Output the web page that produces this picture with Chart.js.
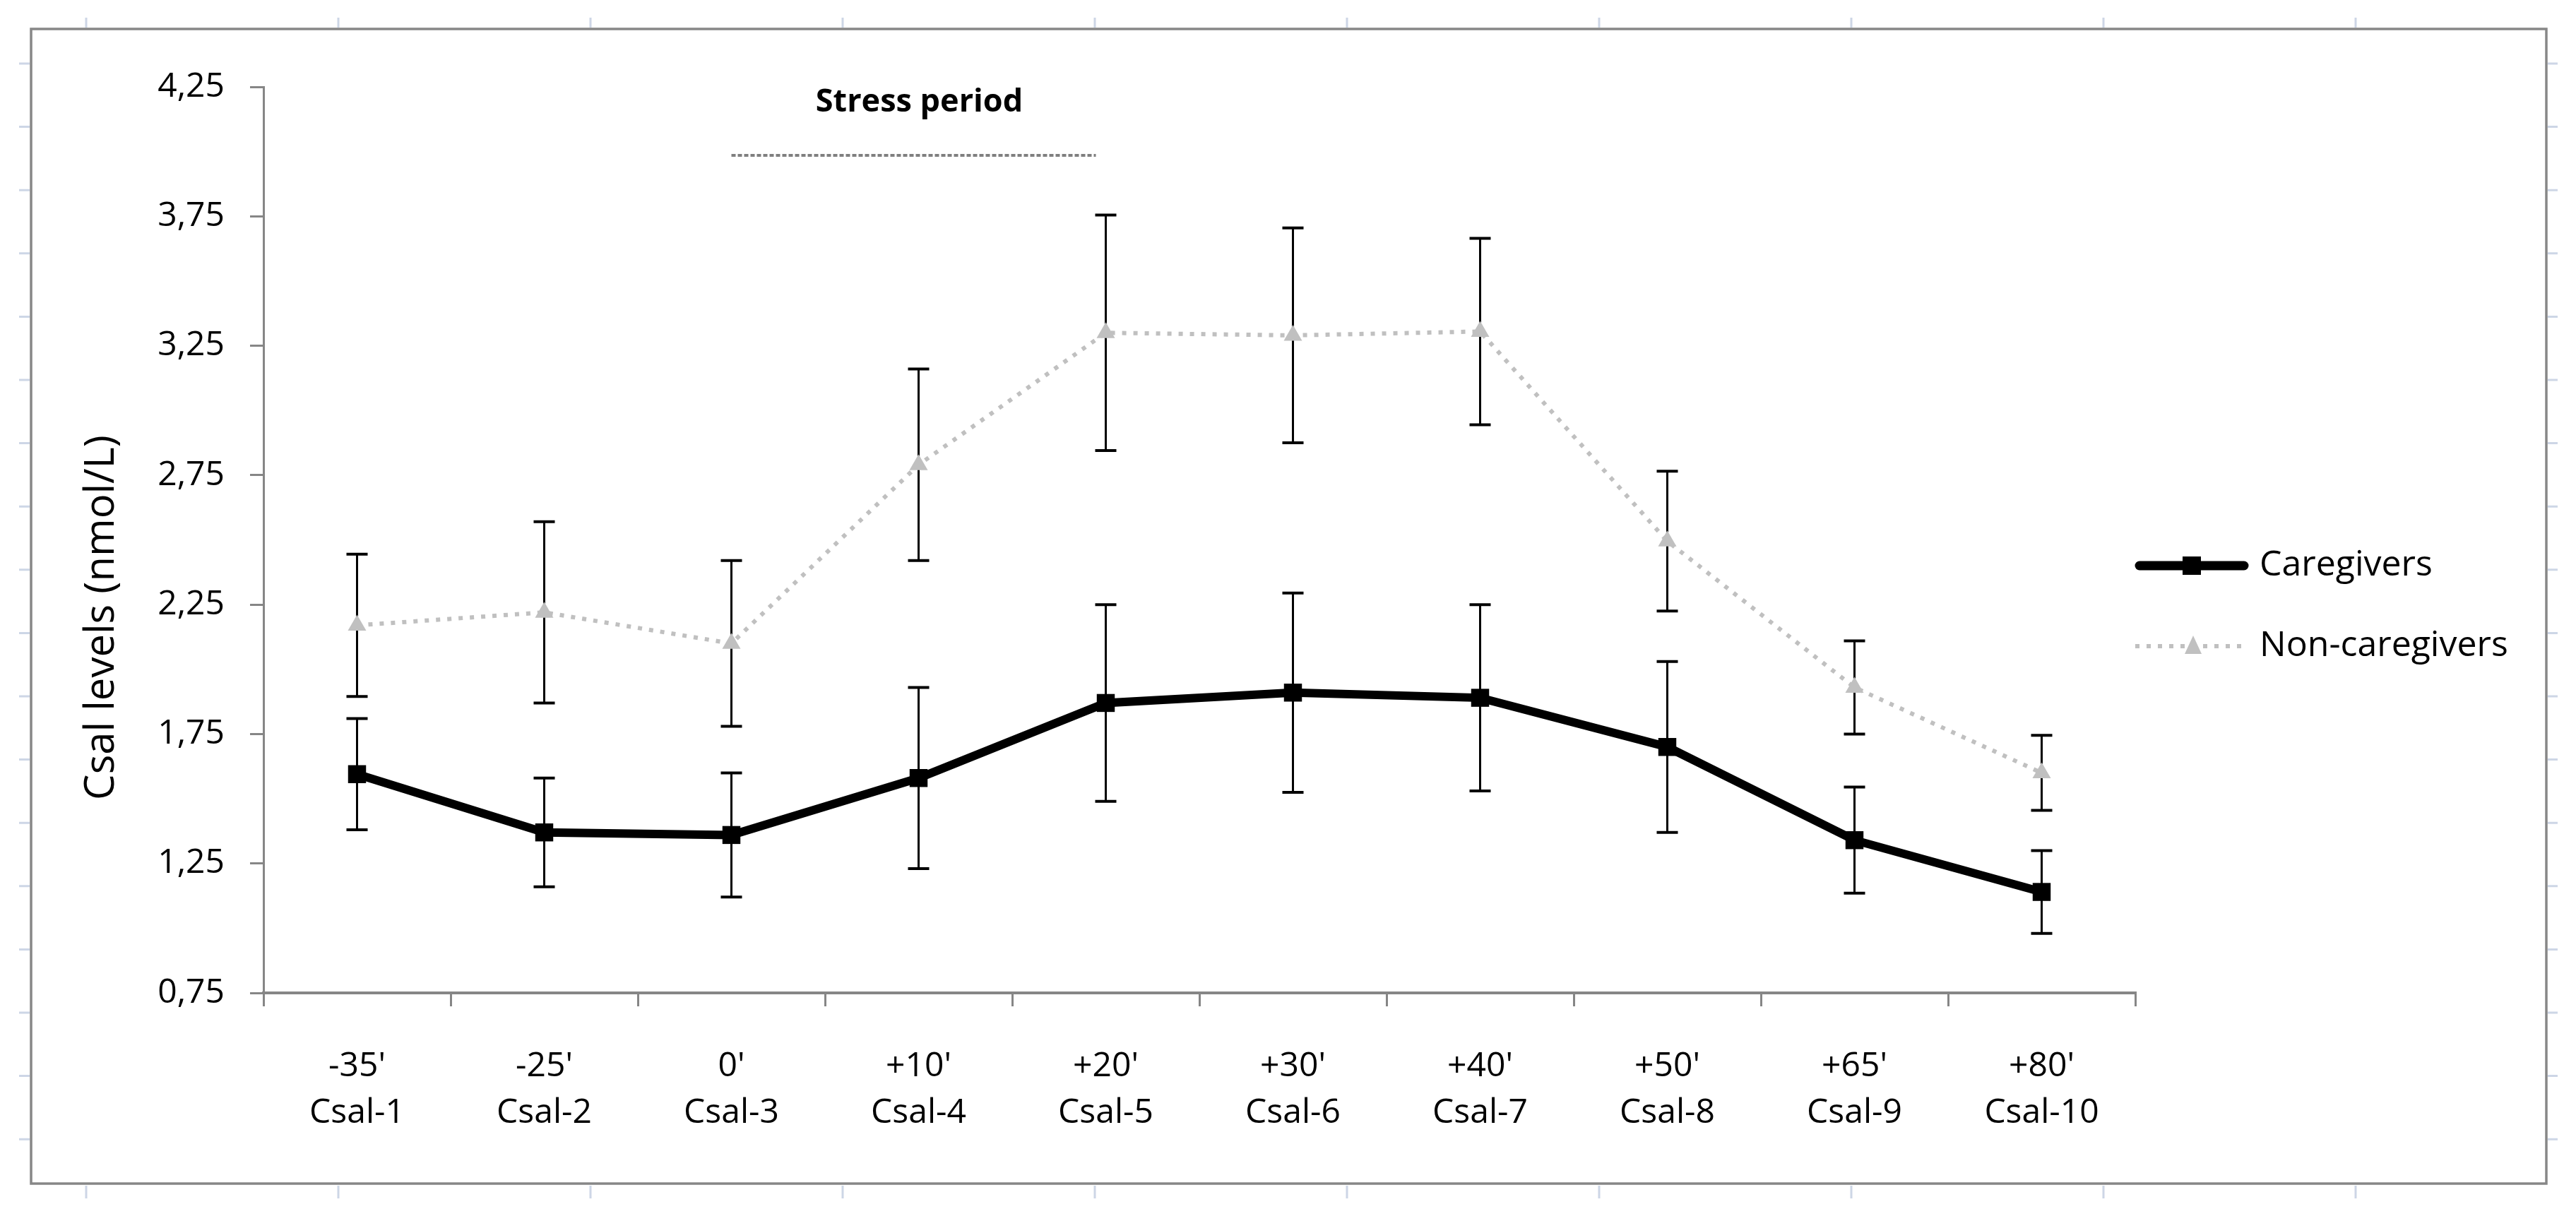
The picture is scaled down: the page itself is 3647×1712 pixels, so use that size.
<!DOCTYPE html>
<html>
<head>
<meta charset="utf-8">
<script src="https://cdn.jsdelivr.net/npm/chart.js@4.4.1/dist/chart.umd.min.js"></script>
<style>
  html, body { margin: 0; padding: 0; background: #ffffff; overflow: hidden; }
  canvas { display: block; }
</style>
</head>
<body>
<canvas id="chart" width="3647" height="1712" style="width:3647px;height:1712px"></canvas>
<script>
// ---------------- data ----------------
const timeLabels   = ["-35'", "-25'", "0'", "+10'", "+20'", "+30'", "+40'", "+50'", "+65'", "+80'"];
const sampleLabels = ["Csal-1", "Csal-2", "Csal-3", "Csal-4", "Csal-5", "Csal-6", "Csal-7", "Csal-8", "Csal-9", "Csal-10"];

const caregivers      = [1.595, 1.37, 1.36, 1.58, 1.87, 1.91, 1.89, 1.70, 1.34, 1.14];
const caregiversErr   = [0.215, 0.21, 0.24, 0.35, 0.38, 0.385, 0.36, 0.33, 0.205, 0.16];
const nonCaregivers    = [2.17, 2.22, 2.10, 2.79, 3.30, 3.29, 3.305, 2.495, 1.93, 1.60];
const nonCaregiversErr = [0.275, 0.35, 0.32, 0.37, 0.455, 0.415, 0.36, 0.27, 0.18, 0.145];

const yTickValues = [0.75, 1.25, 1.75, 2.25, 2.75, 3.25, 3.75, 4.25];
const yTitle = "Csal levels (nmol/L)";
const seriesNames = ["Caregivers", "Non-caregivers"];
const stressLabel = "Stress period";
const stressFromIndex = 2;   // 0'
const stressToIndex = 4;     // +20'

// ---------------- styling ----------------
const FONT = "'Open Sans', 'Noto Sans', sans-serif";
const AXIS_GRAY = '#868686';
const NC_GRAY = '#c0c0c0';

const decorPlugin = {
  id: 'decor',
  beforeDraw(chart) {
    const ctx = chart.ctx;
    ctx.save();
    ctx.fillStyle = '#ffffff';
    ctx.fillRect(0, 0, chart.width, chart.height);
    // faint marks outside the frame
    ctx.strokeStyle = '#cdd6e6';
    ctx.lineWidth = 3;
    ctx.beginPath();
    for (let k = 0; k < 10; k++) {
      const x = 122 + 357 * k;
      ctx.moveTo(x, 25); ctx.lineTo(x, 39);
      ctx.moveTo(x, 1679); ctx.lineTo(x, 1697);
    }
    for (let k = 0; k < 18; k++) {
      const y = 90 + 89.6 * k;
      ctx.moveTo(27, y); ctx.lineTo(42, y);
      ctx.moveTo(3607, y); ctx.lineTo(3621, y);
    }
    ctx.stroke();
    // frame
    ctx.strokeStyle = '#878787';
    ctx.lineWidth = 3.5;
    ctx.strokeRect(44, 41, 3605 - 44, 1676 - 41);
    ctx.restore();
  }
};

const errorBarPlugin = {
  id: 'errorBars',
  beforeDatasetsDraw(chart) {
    const { ctx, scales: { x, y } } = chart;
    ctx.save();
    ctx.strokeStyle = '#000000';
    chart.data.datasets.forEach(ds => {
      ds.data.forEach((v, i) => {
        const e = ds.errors[i];
        const px = x.getPixelForValue(i);
        const top = y.getPixelForValue(v + e);
        const bot = y.getPixelForValue(v - e);
        ctx.lineWidth = 3;
        ctx.beginPath();
        ctx.moveTo(px, top); ctx.lineTo(px, bot);
        ctx.stroke();
        ctx.lineWidth = 4;
        ctx.beginPath();
        ctx.moveTo(px - 15, top); ctx.lineTo(px + 15, top);
        ctx.moveTo(px - 15, bot); ctx.lineTo(px + 15, bot);
        ctx.stroke();
      });
    });
    ctx.restore();
  }
};

const annotationPlugin = {
  id: 'annot',
  afterDraw(chart) {
    const { ctx, scales: { x, y }, chartArea } = chart;
    ctx.save();
    // stress period
    const x1 = x.getPixelForValue(stressFromIndex);
    const x2 = x.getPixelForValue(stressToIndex) - 14;
    const lineY = chartArea.top + 97;
    ctx.strokeStyle = '#7f7f7f';
    ctx.lineWidth = 4;
    ctx.setLineDash([6, 3]);
    ctx.beginPath();
    ctx.moveTo(x1, lineY); ctx.lineTo(x2, lineY);
    ctx.stroke();
    ctx.setLineDash([]);
    ctx.fillStyle = '#000000';
    ctx.font = "bold 45px " + FONT;
    ctx.textAlign = 'center';
    ctx.textBaseline = 'alphabetic';
    ctx.fillText(stressLabel, (x1 + x2) / 2 + 8, chartArea.top + 35);
    // y title
    ctx.save();
    ctx.translate(144, (chartArea.top + chartArea.bottom) / 2 + 110);
    ctx.rotate(-Math.PI / 2);
    ctx.font = "58px " + FONT;
    ctx.textAlign = 'center';
    ctx.textBaseline = 'middle';
    ctx.fillText(yTitle, 0, 0);
    ctx.restore();
    ctx.restore();
  }
};

const legendPlugin = {
  id: 'customLegend',
  afterDraw(chart) {
    const { ctx, chartArea } = chart;
    const x0 = chartArea.right;
    const lineLen = 160;
    const cy = chart.height / 2;
    const rows = [cy - 55, cy + 59];
    ctx.save();
    // Caregivers
    ctx.strokeStyle = '#000000';
    ctx.lineWidth = 13;
    ctx.lineCap = 'round';
    ctx.beginPath();
    ctx.moveTo(x0 + 6, rows[0]); ctx.lineTo(x0 + lineLen - 6, rows[0]);
    ctx.stroke();
    ctx.fillStyle = '#000000';
    ctx.fillRect(x0 + lineLen / 2 - 13, rows[0] - 13, 26, 26);
    // Non-caregivers
    ctx.lineCap = 'butt';
    ctx.strokeStyle = NC_GRAY;
    ctx.lineWidth = 6;
    ctx.setLineDash([6, 10]);
    ctx.beginPath();
    ctx.moveTo(x0, rows[1]); ctx.lineTo(x0 + lineLen - 6, rows[1]);
    ctx.stroke();
    ctx.setLineDash([]);
    ctx.fillStyle = NC_GRAY;
    const tx = x0 + lineLen / 2 + 2;
    ctx.beginPath();
    ctx.moveTo(tx, rows[1] - 15);
    ctx.lineTo(tx + 12, rows[1] + 11);
    ctx.lineTo(tx - 12, rows[1] + 11);
    ctx.closePath();
    ctx.fill();
    // labels
    ctx.fillStyle = '#000000';
    ctx.font = "50px " + FONT;
    ctx.textAlign = 'left';
    ctx.textBaseline = 'middle';
    ctx.fillText(seriesNames[0], x0 + lineLen + 16, rows[0]);
    ctx.fillText(seriesNames[1], x0 + lineLen + 16, rows[1]);
    ctx.restore();
  }
};

new Chart(document.getElementById('chart'), {
  type: 'line',
  data: {
    labels: timeLabels.map((t, i) => [t, sampleLabels[i]]),
    datasets: [
      {
        label: seriesNames[0],
        data: caregivers,
        errors: caregiversErr,
        borderColor: '#000000',
        backgroundColor: '#000000',
        borderWidth: 12,
        tension: 0,
        pointStyle: 'rect',
        pointRadius: 18,
        pointBorderWidth: 0,
        pointBackgroundColor: '#000000',
        order: 0
      },
      {
        label: seriesNames[1],
        data: nonCaregivers,
        errors: nonCaregiversErr,
        borderColor: NC_GRAY,
        backgroundColor: NC_GRAY,
        borderWidth: 6,
        borderDash: [6, 10],
        tension: 0,
        pointStyle: 'triangle',
        pointRadius: 15,
        pointBorderWidth: 0,
        pointBackgroundColor: NC_GRAY,
        order: 1
      }
    ]
  },
  options: {
    responsive: false,
    animation: false,
    devicePixelRatio: 1,
    layout: { padding: { left: 0, top: 123, right: 624, bottom: 106 } },
    plugins: {
      legend: { display: false },
      tooltip: { enabled: false },
      title: { display: false }
    },
    scales: {
      x: {
        type: 'category',
        offset: true,
        grid: { offset: true, drawOnChartArea: false, drawTicks: true, tickLength: 19, color: AXIS_GRAY, lineWidth: 3 },
        border: { display: true, color: AXIS_GRAY, width: 4 },
        ticks: {
          autoSkip: false, maxRotation: 0, minRotation: 0, padding: 52,
          color: '#000000',
          font: { family: FONT, size: 48, lineHeight: 1.375 }
        },
        afterFit: s => { s.height = 200; }
      },
      y: {
        min: 0.75,
        max: 4.25,
        afterBuildTicks: s => { s.ticks = yTickValues.map(v => ({ value: v })); },
        grid: { drawOnChartArea: false, drawTicks: true, tickLength: 19, color: AXIS_GRAY, lineWidth: 3 },
        border: { display: true, color: AXIS_GRAY, width: 3 },
        ticks: {
          padding: 36,
          color: '#000000',
          font: { family: FONT, size: 48 },
          callback: v => Number(v).toFixed(2).replace('.', ',')
        },
        afterFit: s => { s.width = 373; }
      }
    }
  },
  plugins: [decorPlugin, errorBarPlugin, annotationPlugin, legendPlugin]
});
</script>
</body>
</html>
